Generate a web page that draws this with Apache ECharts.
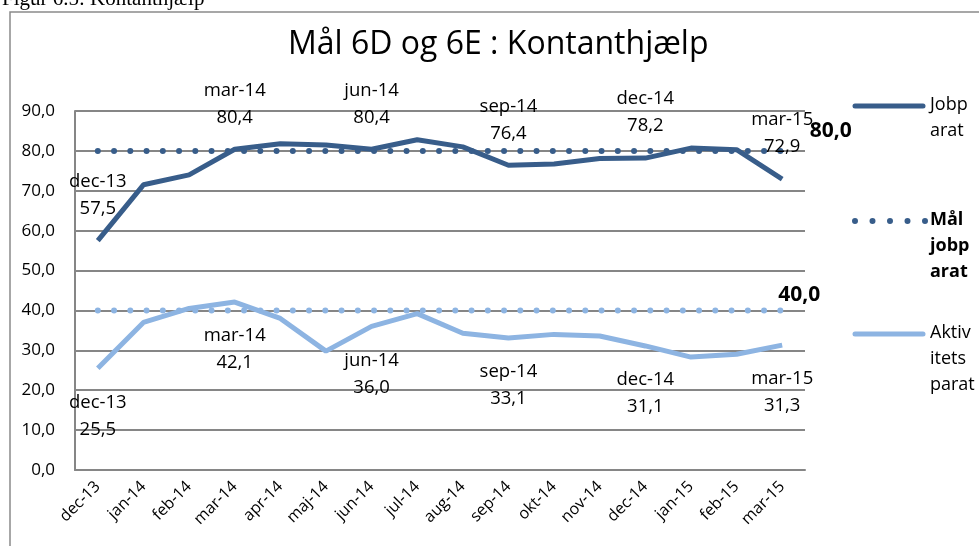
<!DOCTYPE html>
<html>
<head>
    <meta charset="UTF-8">
    <title></title>
    <script type="text/javascript" src="https://cdn.jsdelivr.net/npm/echarts@6/dist/echarts.min.js"></script>
    <style>
        html, body { margin: 0; padding: 0; background: #fff; }
        #main { width: 979px; height: 546px; }
    </style>
</head>
<body>
<div id="main"></div>
<script>
    var months = ['dec-13', 'jan-14', 'feb-14', 'mar-14', 'apr-14', 'maj-14', 'jun-14', 'jul-14',
        'aug-14', 'sep-14', 'okt-14', 'nov-14', 'dec-14', 'jan-15', 'feb-15', 'mar-15'];
    var jobparat = [57.5, 71.5, 74.0, 80.4, 81.8, 81.5, 80.4, 82.8, 81.0, 76.4, 76.7, 78.1, 78.2, 80.7, 80.3, 72.9];
    var aktivParat = [25.5, 37.0, 40.5, 42.1, 38.0, 29.8, 36.0, 39.2, 34.3, 33.1, 34.0, 33.6, 31.1, 28.3, 29.0, 31.3];
    var maalJob = [80, 80, 80, 80, 80, 80, 80, 80, 80, 80, 80, 80, 80, 80, 80, 80];
    var maalAktiv = [40, 40, 40, 40, 40, 40, 40, 40, 40, 40, 40, 40, 40, 40, 40, 40];
    var labelIdx = [0, 3, 6, 9, 12, 15];
    var names = ['Jobparat', 'Mål jobparat', 'Aktivitetsparat', 'Mål aktivitetsparat'];

    var dark = '#385d8a';
    var light = '#8db4e2';
    var font = '"Open Sans", "Noto Sans", sans-serif';

    function fmt(v) {
        return v.toFixed(1).replace('.', ',');
    }

    function monthLabel(p) {
        if (labelIdx.indexOf(p.dataIndex) < 0) return '';
        return p.name + '\n' + fmt(p.value);
    }

    function lastLabel(p) {
        return p.dataIndex === months.length - 1 ? fmt(p.value) : '';
    }

    // symbol is kept (tiny, invisible) so that the point labels get drawn
    var hiddenSym = { symbol: 'circle', symbolSize: 1, showSymbol: true, itemStyle: { color: 'rgba(0,0,0,0)' } };

    var myChart = echarts.init(document.getElementById('main'));
    myChart.setOption({
        animation: false,
        title: {
            text: 'Mål 6D og 6E : Kontanthjælp',
            left: 283,
            top: 24,
            textStyle: { fontFamily: font, fontSize: 32, fontWeight: 'normal', color: '#000' }
        },
        grid: { left: 75, right: 174, top: 111, bottom: 76 },
        xAxis: {
            type: 'category',
            data: months,
            boundaryGap: true,
            axisLine: { lineStyle: { color: '#868686', width: 2 } },
            axisTick: { show: false },
            axisLabel: { rotate: 45, margin: 14, fontFamily: font, fontSize: 16, color: '#000' }
        },
        yAxis: {
            type: 'value',
            min: 0,
            max: 90,
            interval: 10,
            axisLine: { show: true, lineStyle: { color: '#868686', width: 2 } },
            axisTick: { show: false },
            splitLine: { lineStyle: { color: '#868686', width: 2 } },
            axisLabel: { margin: 20, fontFamily: font, fontSize: 17, color: '#000', formatter: fmt }
        },
        series: [Object.assign({
            name: names[0],
            type: 'line',
            data: jobparat,
            lineStyle: { color: dark, width: 5 },
            label: {
                show: true, position: 'top', distance: 18, formatter: monthLabel,
                fontFamily: font, fontSize: 18.5, lineHeight: 27, color: '#000'
            }
        }, hiddenSym), Object.assign({
            name: names[1],
            type: 'line',
            data: maalJob,
            lineStyle: { color: dark, width: 6, type: [0, 16.25], cap: 'round' },
            label: {
                show: true, position: 'right', offset: [22, -20], formatter: lastLabel,
                fontFamily: font, fontSize: 21, fontWeight: 'bold', color: '#000'
            }
        }, hiddenSym), Object.assign({
            name: names[2],
            type: 'line',
            data: aktivParat,
            lineStyle: { color: light, width: 5 },
            label: {
                show: true, position: 'bottom', distance: 20, formatter: monthLabel,
                fontFamily: font, fontSize: 18.5, lineHeight: 27, color: '#000'
            }
        }, hiddenSym), Object.assign({
            name: names[3],
            type: 'line',
            data: maalAktiv,
            lineStyle: { color: light, width: 6, type: [0, 16.25], cap: 'round' },
            label: {
                show: true, position: 'top', distance: 4, offset: [17, 0], formatter: lastLabel,
                fontFamily: font, fontSize: 21, fontWeight: 'bold', color: '#000'
            }
        }, hiddenSym)],
        graphic: [{
            type: 'rect',
            shape: { x: 10, y: 12, width: 1100, height: 700 },
            style: { fill: null, stroke: '#8a8a8a', lineWidth: 1.5 },
            silent: true
        }, {
            type: 'text',
            x: 2, y: -11,
            style: { text: 'Figur 6.5: Kontanthjælp', font: '21px "Liberation Serif", serif', fill: '#000' }
        }, {
            type: 'line',
            shape: { x1: 855, y1: 106, x2: 923, y2: 106 },
            style: { stroke: dark, lineWidth: 5, lineCap: 'round' }
        }, {
            type: 'text',
            x: 930, y: 92,
            style: { text: 'Jobp\narat', font: '18px ' + font, lineHeight: 26, fill: '#000' }
        }, {
            type: 'line',
            shape: { x1: 855, y1: 221, x2: 926, y2: 221 },
            style: { stroke: dark, lineWidth: 6, lineCap: 'round', lineDash: [0, 17.5] }
        }, {
            type: 'text',
            x: 930, y: 207,
            style: { text: 'Mål\njobp\narat', font: 'bold 18px ' + font, lineHeight: 26, fill: '#000' }
        }, {
            type: 'line',
            shape: { x1: 855, y1: 334, x2: 923, y2: 334 },
            style: { stroke: light, lineWidth: 5, lineCap: 'round' }
        }, {
            type: 'text',
            x: 930, y: 320,
            style: { text: 'Aktiv\nitets\nparat', font: '18px ' + font, lineHeight: 26, fill: '#000' }
        }]
    });
</script>
</body>
</html>
